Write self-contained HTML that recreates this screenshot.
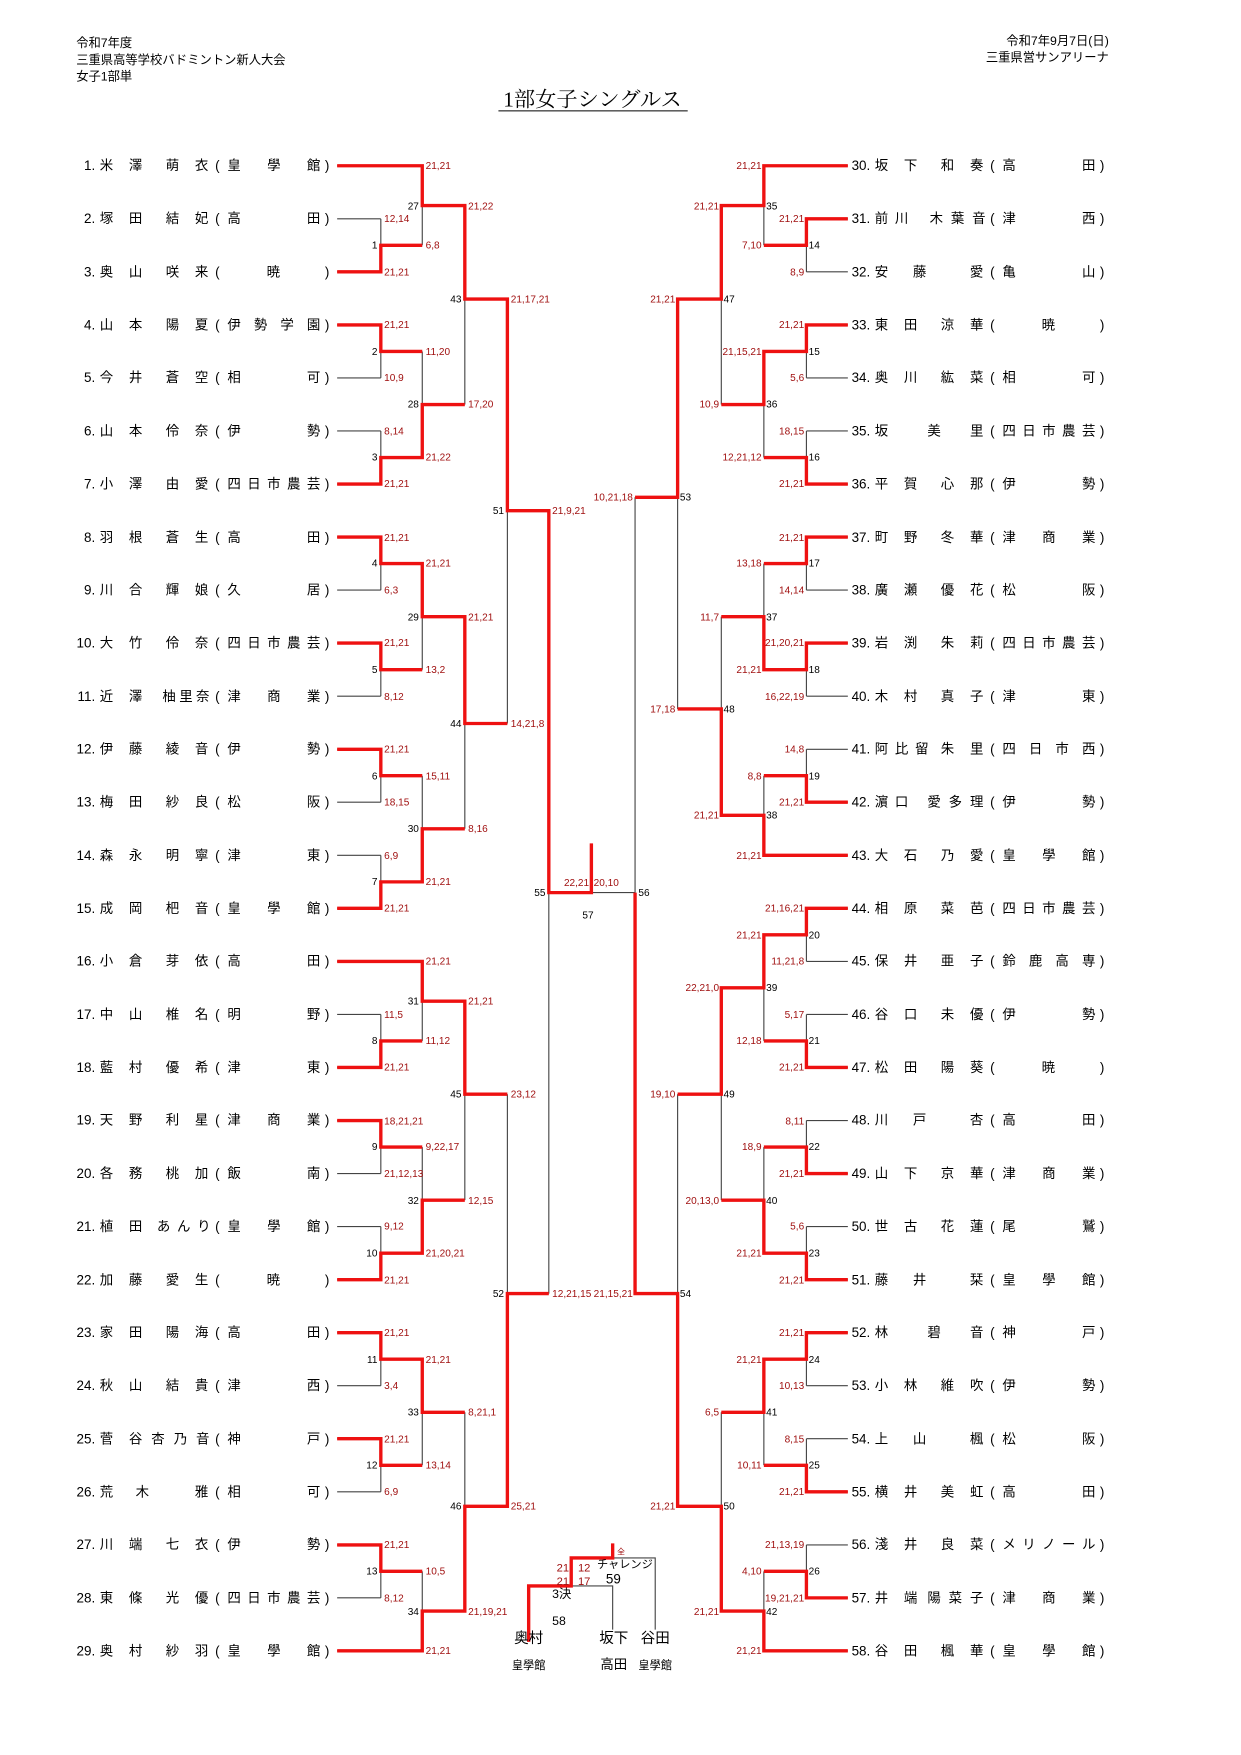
<!DOCTYPE html>
<html><head><meta charset="utf-8"><style>
html,body{margin:0;padding:0;background:#fff;}
svg{display:block;}
text{font-family:"Liberation Sans","Noto Sans CJK JP",sans-serif;fill:#000;}
.p{font-size:12px;}
.s{font-size:9px;fill:#a01010;}
.m{font-size:9px;}
.h{font-size:11px;}
.e{text-anchor:end;}
.c{text-anchor:middle;}
</style></head><body>
<svg width="1241" height="1755" viewBox="0 0 1108 1567" xmlns="http://www.w3.org/2000/svg">
<text class="h" x="68" y="42">令和7年度</text>
<text class="h" x="68" y="57">三重県高等学校バドミントン新人大会</text>
<text class="h" x="68" y="72">女子1部単</text>
<text class="h e" x="990" y="40">令和7年9月7日(日)</text>
<text class="h e" x="990" y="55">三重県営サンアリーナ</text>
<text x="529" y="95" class="c" style="font-size:19px;font-family:'Liberation Serif','Noto Serif CJK SC',serif">1部女子シングルス</text>
<line x1="445" y1="99" x2="614" y2="99" stroke="#000" stroke-width="1"/>

<g fill="none" stroke="#444" stroke-width="1">
<path d="M301 148H377M301 195.4H340M301 242.7H340M301 290.1H340M301 337.4H340M301 384.8H340M301 432.2H340M301 479.5H340M301 526.9H340M301 574.2H340M301 621.6H340M301 669H340M301 716.3H340M301 763.7H340M301 811H340M301 858.4H377M301 905.8H340M301 953.1H340M301 1000.5H340M301 1047.8H340M301 1095.2H340M301 1142.6H340M301 1189.9H340M301 1237.3H340M301 1284.6H340M301 1332H340M301 1379.4H340M301 1426.7H340M301 1474H377
M340 195.4V242.7M340 290.1V337.4M340 384.8V432.2M340 479.5V526.9M340 574.2V621.6M340 669V716.3M340 763.7V811M340 905.8V953.1M340 1000.5V1047.8M340 1095.2V1142.6M340 1189.9V1237.3M340 1284.6V1332M340 1379.4V1426.7
M377 148V219M377 313.8V408.5M377 503.2V597.9M377 692.6V787.4M377 858.4V929.4M377 1024.2V1118.9M377 1213.6V1308.3M377 1403V1474
M415 183.5V361.2M415 550.6V740M415 893.9V1071.6M415 1261V1438.5M453 267V646M453 977V1345M490 456V1155
M757 148H682M757 195.4H720M757 242.7H720M757 290.1H720M757 337.4H720M757 384.8H720M757 432.2H720M757 479.5H720M757 526.9H720M757 574.2H720M757 621.6H720M757 669H720M757 716.3H720M757 763.7H682M757 811H720M757 858.4H720M757 905.8H720M757 953.1H720M757 1000.5H720M757 1047.8H720M757 1095.2H720M757 1142.6H720M757 1189.9H720M757 1237.3H720M757 1284.6H720M757 1332H720M757 1379.4H720M757 1426.7H720M757 1474H682
M720 195.4V242.7M720 290.1V337.4M720 384.8V432.2M720 479.5V526.9M720 574.2V621.6M720 669V716.3M720 811V858.4M720 905.8V953.1M720 1000.5V1047.8M720 1095.2V1142.6M720 1189.9V1237.3M720 1284.6V1332M720 1379.4V1426.7
M682 148V219M682 313.8V408.5M682 503.2V597.9M682 692.6V763.7M682 834.7V929.4M682 1024.2V1118.9M682 1213.6V1308.3M682 1403V1474
M644 183.5V361.2M644 550.6V728M644 882V1071.6M644 1261V1438.5M605 267V633M605 977V1345M567 444V1155M567 797H528
M510 1416H547V1455M547 1391H585V1455"/>
</g>
<g fill="none" stroke="#ee1111" stroke-width="3">
<path d="M301 148H377V183.5H415V267H453V456H490V797H528V753
M301 242.7H340V219H377M301 290.1H340V313.8H377M301 432.2H340V408.5H377V361.2H415M301 479.5H340V503.2H377V550.6H415V646H453M301 574.2H340V597.9H377M301 669H340V692.6H377M301 811H340V787.4H377V740H415
M301 858.4H377V893.9H415V977H453M301 953.1H340V929.4H377M301 1000.5H340V1024.2H377M301 1142.6H340V1118.9H377V1071.6H415M301 1189.9H340V1213.6H377V1261H415M301 1284.6H340V1308.3H377M301 1379.4H340V1403H377M301 1474H377V1438.5H415V1345H453V1155H490
M757 148H682V183.5H644V267H605V444H567M757 195.4H720V219H682M757 290.1H720V313.8H682V361.2H644M757 432.2H720V408.5H682M757 479.5H720V503.2H682M757 574.2H720V597.9H682V550.6H644M757 716.3H720V692.6H682M757 763.7H682V728H644V633H605
M757 811H720V834.7H682V882H644V977H605M757 953.1H720V929.4H682M757 1047.8H720V1024.2H682M757 1142.6H720V1118.9H682V1071.6H644M757 1189.9H720V1213.6H682V1261H644M757 1332H720V1308.3H682M757 1426.7H720V1403H682M757 1474H682V1438.5H644V1345H605V1155H567V797
M472 1466V1416H510V1391H547V1378"/>
</g>

<g class="s">
<text class="s" x="380" y="151">21,21</text><text class="s" x="380" y="222">6,8</text><text class="s" x="380" y="317">11,20</text><text class="s" x="380" y="411">21,22</text><text class="s" x="380" y="506">21,21</text><text class="s" x="380" y="601">13,2</text><text class="s" x="380" y="696">15,11</text><text class="s" x="380" y="790">21,21</text><text class="s" x="380" y="861">21,21</text><text class="s" x="380" y="932">11,12</text><text class="s" x="380" y="1027">9,22,17</text><text class="s" x="380" y="1122">21,20,21</text><text class="s" x="380" y="1217">21,21</text><text class="s" x="380" y="1311">13,14</text><text class="s" x="380" y="1406">10,5</text><text class="s" x="380" y="1477">21,21</text>
<text class="s" x="343" y="198">12,14</text><text class="s" x="343" y="246">21,21</text><text class="s" x="343" y="293">21,21</text><text class="s" x="343" y="340">10,9</text><text class="s" x="343" y="388">8,14</text><text class="s" x="343" y="435">21,21</text><text class="s" x="343" y="483">21,21</text><text class="s" x="343" y="530">6,3</text><text class="s" x="343" y="577">21,21</text><text class="s" x="343" y="625">8,12</text><text class="s" x="343" y="672">21,21</text><text class="s" x="343" y="719">18,15</text><text class="s" x="343" y="767">6,9</text><text class="s" x="343" y="814">21,21</text><text class="s" x="343" y="909">11,5</text><text class="s" x="343" y="956">21,21</text><text class="s" x="343" y="1004">18,21,21</text><text class="s" x="343" y="1051">21,12,13</text><text class="s" x="343" y="1098">9,12</text><text class="s" x="343" y="1146">21,21</text><text class="s" x="343" y="1193">21,21</text><text class="s" x="343" y="1240">3,4</text><text class="s" x="343" y="1288">21,21</text><text class="s" x="343" y="1335">6,9</text><text class="s" x="343" y="1382">21,21</text><text class="s" x="343" y="1430">8,12</text>
<text class="s" x="418" y="187">21,22</text><text class="s" x="418" y="364">17,20</text><text class="s" x="418" y="554">21,21</text><text class="s" x="418" y="743">8,16</text><text class="s" x="418" y="897">21,21</text><text class="s" x="418" y="1075">12,15</text><text class="s" x="418" y="1264">8,21,1</text><text class="s" x="418" y="1442">21,19,21</text>
<text class="s" x="456" y="270">21,17,21</text><text class="s" x="456" y="649">14,21,8</text><text class="s" x="456" y="980">23,12</text><text class="s" x="456" y="1348">25,21</text>
<text class="s" x="493" y="459">21,9,21</text><text class="s" x="493" y="1158">12,21,15</text>
<text class="s e" x="526" y="791">22,21</text><text class="s" x="530" y="791">20,10</text>

<text class="s e" x="718" y="198">21,21</text><text class="s e" x="718" y="246">8,9</text><text class="s e" x="718" y="293">21,21</text><text class="s e" x="718" y="340">5,6</text><text class="s e" x="718" y="388">18,15</text><text class="s e" x="718" y="435">21,21</text><text class="s e" x="718" y="483">21,21</text><text class="s e" x="718" y="530">14,14</text><text class="s e" x="718" y="577">21,20,21</text><text class="s e" x="718" y="625">16,22,19</text><text class="s e" x="718" y="672">14,8</text><text class="s e" x="718" y="719">21,21</text><text class="s e" x="718" y="814">21,16,21</text><text class="s e" x="718" y="861">11,21,8</text><text class="s e" x="718" y="909">5,17</text><text class="s e" x="718" y="956">21,21</text><text class="s e" x="718" y="1004">8,11</text><text class="s e" x="718" y="1051">21,21</text><text class="s e" x="718" y="1098">5,6</text><text class="s e" x="718" y="1146">21,21</text><text class="s e" x="718" y="1193">21,21</text><text class="s e" x="718" y="1240">10,13</text><text class="s e" x="718" y="1288">8,15</text><text class="s e" x="718" y="1335">21,21</text><text class="s e" x="718" y="1382">21,13,19</text><text class="s e" x="718" y="1430">19,21,21</text>
<text class="s e" x="680" y="151">21,21</text><text class="s e" x="680" y="222">7,10</text><text class="s e" x="680" y="317">21,15,21</text><text class="s e" x="680" y="411">12,21,12</text><text class="s e" x="680" y="506">13,18</text><text class="s e" x="680" y="601">21,21</text><text class="s e" x="680" y="696">8,8</text><text class="s e" x="680" y="767">21,21</text><text class="s e" x="680" y="838">21,21</text><text class="s e" x="680" y="932">12,18</text><text class="s e" x="680" y="1027">18,9</text><text class="s e" x="680" y="1122">21,21</text><text class="s e" x="680" y="1217">21,21</text><text class="s e" x="680" y="1311">10,11</text><text class="s e" x="680" y="1406">4,10</text><text class="s e" x="680" y="1477">21,21</text>
<text class="s e" x="642" y="187">21,21</text><text class="s e" x="642" y="364">10,9</text><text class="s e" x="642" y="554">11,7</text><text class="s e" x="642" y="731">21,21</text><text class="s e" x="642" y="885">22,21,0</text><text class="s e" x="642" y="1075">20,13,0</text><text class="s e" x="642" y="1264">6,5</text><text class="s e" x="642" y="1442">21,21</text>
<text class="s e" x="603" y="270">21,21</text><text class="s e" x="603" y="636">17,18</text><text class="s e" x="603" y="980">19,10</text><text class="s e" x="603" y="1348">21,21</text>
<text class="s e" x="565" y="447">10,21,18</text><text class="s e" x="565" y="1158">21,15,21</text>
</g>

<g>
<text class="m e" x="337" y="222">1</text><text class="m e" x="337" y="317">2</text><text class="m e" x="337" y="411">3</text><text class="m e" x="337" y="506">4</text><text class="m e" x="337" y="601">5</text><text class="m e" x="337" y="696">6</text><text class="m e" x="337" y="790">7</text><text class="m e" x="337" y="932">8</text><text class="m e" x="337" y="1027">9</text><text class="m e" x="337" y="1122">10</text><text class="m e" x="337" y="1217">11</text><text class="m e" x="337" y="1311">12</text><text class="m e" x="337" y="1406">13</text>
<text class="m e" x="374" y="187">27</text><text class="m e" x="374" y="364">28</text><text class="m e" x="374" y="554">29</text><text class="m e" x="374" y="743">30</text><text class="m e" x="374" y="897">31</text><text class="m e" x="374" y="1075">32</text><text class="m e" x="374" y="1264">33</text><text class="m e" x="374" y="1442">34</text>
<text class="m e" x="412" y="270">43</text><text class="m e" x="412" y="649">44</text><text class="m e" x="412" y="980">45</text><text class="m e" x="412" y="1348">46</text>
<text class="m e" x="450" y="459">51</text><text class="m e" x="450" y="1158">52</text><text class="m e" x="487" y="800">55</text><text class="m c" x="525" y="820">57</text>
<text class="m" x="722" y="222">14</text><text class="m" x="722" y="317">15</text><text class="m" x="722" y="411">16</text><text class="m" x="722" y="506">17</text><text class="m" x="722" y="601">18</text><text class="m" x="722" y="696">19</text><text class="m" x="722" y="838">20</text><text class="m" x="722" y="932">21</text><text class="m" x="722" y="1027">22</text><text class="m" x="722" y="1122">23</text><text class="m" x="722" y="1217">24</text><text class="m" x="722" y="1311">25</text><text class="m" x="722" y="1406">26</text>
<text class="m" x="684" y="187">35</text><text class="m" x="684" y="364">36</text><text class="m" x="684" y="554">37</text><text class="m" x="684" y="731">38</text><text class="m" x="684" y="885">39</text><text class="m" x="684" y="1075">40</text><text class="m" x="684" y="1264">41</text><text class="m" x="684" y="1442">42</text>
<text class="m" x="646" y="270">47</text><text class="m" x="646" y="636">48</text><text class="m" x="646" y="980">49</text><text class="m" x="646" y="1348">50</text>
<text class="m" x="607" y="447">53</text><text class="m" x="607" y="1158">54</text><text class="m" x="570" y="800">56</text>
</g>

<g class="p">
<text class="p e" x="85" y="152">1.</text><text class="p" x="89" y="152" textLength="38" lengthAdjust="spacing">米澤</text><text class="p" x="148" y="152" textLength="38" lengthAdjust="spacing">萌衣</text><text class="p" x="192" y="152">(</text><text class="p" x="203" y="152" textLength="83" lengthAdjust="spacing">皇學館</text><text class="p" x="290" y="152">)</text>
<text class="p e" x="85" y="199">2.</text><text class="p" x="89" y="199" textLength="38" lengthAdjust="spacing">塚田</text><text class="p" x="148" y="199" textLength="38" lengthAdjust="spacing">結妃</text><text class="p" x="192" y="199">(</text><text class="p" x="203" y="199" textLength="83" lengthAdjust="spacing">高田</text><text class="p" x="290" y="199">)</text>
<text class="p e" x="85" y="247">3.</text><text class="p" x="89" y="247" textLength="38" lengthAdjust="spacing">奥山</text><text class="p" x="148" y="247" textLength="38" lengthAdjust="spacing">咲来</text><text class="p" x="192" y="247">(</text><text class="p c" x="244" y="247">暁</text><text class="p" x="290" y="247">)</text>
<text class="p e" x="85" y="294">4.</text><text class="p" x="89" y="294" textLength="38" lengthAdjust="spacing">山本</text><text class="p" x="148" y="294" textLength="38" lengthAdjust="spacing">陽夏</text><text class="p" x="192" y="294">(</text><text class="p" x="203" y="294" textLength="83" lengthAdjust="spacing">伊勢学園</text><text class="p" x="290" y="294">)</text>
<text class="p e" x="85" y="341">5.</text><text class="p" x="89" y="341" textLength="38" lengthAdjust="spacing">今井</text><text class="p" x="148" y="341" textLength="38" lengthAdjust="spacing">蒼空</text><text class="p" x="192" y="341">(</text><text class="p" x="203" y="341" textLength="83" lengthAdjust="spacing">相可</text><text class="p" x="290" y="341">)</text>
<text class="p e" x="85" y="389">6.</text><text class="p" x="89" y="389" textLength="38" lengthAdjust="spacing">山本</text><text class="p" x="148" y="389" textLength="38" lengthAdjust="spacing">伶奈</text><text class="p" x="192" y="389">(</text><text class="p" x="203" y="389" textLength="83" lengthAdjust="spacing">伊勢</text><text class="p" x="290" y="389">)</text>
<text class="p e" x="85" y="436">7.</text><text class="p" x="89" y="436" textLength="38" lengthAdjust="spacing">小澤</text><text class="p" x="148" y="436" textLength="38" lengthAdjust="spacing">由愛</text><text class="p" x="192" y="436">(</text><text class="p" x="203" y="436" textLength="83" lengthAdjust="spacing">四日市農芸</text><text class="p" x="290" y="436">)</text>
<text class="p e" x="85" y="484">8.</text><text class="p" x="89" y="484" textLength="38" lengthAdjust="spacing">羽根</text><text class="p" x="148" y="484" textLength="38" lengthAdjust="spacing">蒼生</text><text class="p" x="192" y="484">(</text><text class="p" x="203" y="484" textLength="83" lengthAdjust="spacing">高田</text><text class="p" x="290" y="484">)</text>
<text class="p e" x="85" y="531">9.</text><text class="p" x="89" y="531" textLength="38" lengthAdjust="spacing">川合</text><text class="p" x="148" y="531" textLength="38" lengthAdjust="spacing">輝娘</text><text class="p" x="192" y="531">(</text><text class="p" x="203" y="531" textLength="83" lengthAdjust="spacing">久居</text><text class="p" x="290" y="531">)</text>
<text class="p e" x="85" y="578">10.</text><text class="p" x="89" y="578" textLength="38" lengthAdjust="spacing">大竹</text><text class="p" x="148" y="578" textLength="38" lengthAdjust="spacing">伶奈</text><text class="p" x="192" y="578">(</text><text class="p" x="203" y="578" textLength="83" lengthAdjust="spacing">四日市農芸</text><text class="p" x="290" y="578">)</text>
<text class="p e" x="85" y="626">11.</text><text class="p" x="89" y="626" textLength="38" lengthAdjust="spacing">近澤</text><text class="p" x="145" y="626" textLength="42" lengthAdjust="spacing">柚里奈</text><text class="p" x="192" y="626">(</text><text class="p" x="203" y="626" textLength="83" lengthAdjust="spacing">津商業</text><text class="p" x="290" y="626">)</text>
<text class="p e" x="85" y="673">12.</text><text class="p" x="89" y="673" textLength="38" lengthAdjust="spacing">伊藤</text><text class="p" x="148" y="673" textLength="38" lengthAdjust="spacing">綾音</text><text class="p" x="192" y="673">(</text><text class="p" x="203" y="673" textLength="83" lengthAdjust="spacing">伊勢</text><text class="p" x="290" y="673">)</text>
<text class="p e" x="85" y="720">13.</text><text class="p" x="89" y="720" textLength="38" lengthAdjust="spacing">梅田</text><text class="p" x="148" y="720" textLength="38" lengthAdjust="spacing">紗良</text><text class="p" x="192" y="720">(</text><text class="p" x="203" y="720" textLength="83" lengthAdjust="spacing">松阪</text><text class="p" x="290" y="720">)</text>
<text class="p e" x="85" y="768">14.</text><text class="p" x="89" y="768" textLength="38" lengthAdjust="spacing">森永</text><text class="p" x="148" y="768" textLength="38" lengthAdjust="spacing">明寧</text><text class="p" x="192" y="768">(</text><text class="p" x="203" y="768" textLength="83" lengthAdjust="spacing">津東</text><text class="p" x="290" y="768">)</text>
<text class="p e" x="85" y="815">15.</text><text class="p" x="89" y="815" textLength="38" lengthAdjust="spacing">成岡</text><text class="p" x="148" y="815" textLength="38" lengthAdjust="spacing">杷音</text><text class="p" x="192" y="815">(</text><text class="p" x="203" y="815" textLength="83" lengthAdjust="spacing">皇學館</text><text class="p" x="290" y="815">)</text>
<text class="p e" x="85" y="862">16.</text><text class="p" x="89" y="862" textLength="38" lengthAdjust="spacing">小倉</text><text class="p" x="148" y="862" textLength="38" lengthAdjust="spacing">芽依</text><text class="p" x="192" y="862">(</text><text class="p" x="203" y="862" textLength="83" lengthAdjust="spacing">高田</text><text class="p" x="290" y="862">)</text>
<text class="p e" x="85" y="910">17.</text><text class="p" x="89" y="910" textLength="38" lengthAdjust="spacing">中山</text><text class="p" x="148" y="910" textLength="38" lengthAdjust="spacing">椎名</text><text class="p" x="192" y="910">(</text><text class="p" x="203" y="910" textLength="83" lengthAdjust="spacing">明野</text><text class="p" x="290" y="910">)</text>
<text class="p e" x="85" y="957">18.</text><text class="p" x="89" y="957" textLength="38" lengthAdjust="spacing">藍村</text><text class="p" x="148" y="957" textLength="38" lengthAdjust="spacing">優希</text><text class="p" x="192" y="957">(</text><text class="p" x="203" y="957" textLength="83" lengthAdjust="spacing">津東</text><text class="p" x="290" y="957">)</text>
<text class="p e" x="85" y="1004">19.</text><text class="p" x="89" y="1004" textLength="38" lengthAdjust="spacing">天野</text><text class="p" x="148" y="1004" textLength="38" lengthAdjust="spacing">利星</text><text class="p" x="192" y="1004">(</text><text class="p" x="203" y="1004" textLength="83" lengthAdjust="spacing">津商業</text><text class="p" x="290" y="1004">)</text>
<text class="p e" x="85" y="1052">20.</text><text class="p" x="89" y="1052" textLength="38" lengthAdjust="spacing">各務</text><text class="p" x="148" y="1052" textLength="38" lengthAdjust="spacing">桃加</text><text class="p" x="192" y="1052">(</text><text class="p" x="203" y="1052" textLength="83" lengthAdjust="spacing">飯南</text><text class="p" x="290" y="1052">)</text>
<text class="p e" x="85" y="1099">21.</text><text class="p" x="89" y="1099" textLength="38" lengthAdjust="spacing">植田</text><text class="p" x="140" y="1099" textLength="48" lengthAdjust="spacing">あんり</text><text class="p" x="192" y="1099">(</text><text class="p" x="203" y="1099" textLength="83" lengthAdjust="spacing">皇學館</text><text class="p" x="290" y="1099">)</text>
<text class="p e" x="85" y="1147">22.</text><text class="p" x="89" y="1147" textLength="38" lengthAdjust="spacing">加藤</text><text class="p" x="148" y="1147" textLength="38" lengthAdjust="spacing">愛生</text><text class="p" x="192" y="1147">(</text><text class="p c" x="244" y="1147">暁</text><text class="p" x="290" y="1147">)</text>
<text class="p e" x="85" y="1194">23.</text><text class="p" x="89" y="1194" textLength="38" lengthAdjust="spacing">家田</text><text class="p" x="148" y="1194" textLength="38" lengthAdjust="spacing">陽海</text><text class="p" x="192" y="1194">(</text><text class="p" x="203" y="1194" textLength="83" lengthAdjust="spacing">高田</text><text class="p" x="290" y="1194">)</text>
<text class="p e" x="85" y="1241">24.</text><text class="p" x="89" y="1241" textLength="38" lengthAdjust="spacing">秋山</text><text class="p" x="148" y="1241" textLength="38" lengthAdjust="spacing">結貴</text><text class="p" x="192" y="1241">(</text><text class="p" x="203" y="1241" textLength="83" lengthAdjust="spacing">津西</text><text class="p" x="290" y="1241">)</text>
<text class="p e" x="85" y="1289">25.</text><text class="p" x="89" y="1289" textLength="38" lengthAdjust="spacing">菅谷</text><text class="p" x="135" y="1289" textLength="52" lengthAdjust="spacing">杏乃音</text><text class="p" x="192" y="1289">(</text><text class="p" x="203" y="1289" textLength="83" lengthAdjust="spacing">神戸</text><text class="p" x="290" y="1289">)</text>
<text class="p e" x="85" y="1336">26.</text><text class="p" x="89" y="1336" textLength="44" lengthAdjust="spacing">荒木</text><text class="p" x="174" y="1336">雅</text><text class="p" x="192" y="1336">(</text><text class="p" x="203" y="1336" textLength="83" lengthAdjust="spacing">相可</text><text class="p" x="290" y="1336">)</text>
<text class="p e" x="85" y="1383">27.</text><text class="p" x="89" y="1383" textLength="38" lengthAdjust="spacing">川端</text><text class="p" x="148" y="1383" textLength="38" lengthAdjust="spacing">七衣</text><text class="p" x="192" y="1383">(</text><text class="p" x="203" y="1383" textLength="83" lengthAdjust="spacing">伊勢</text><text class="p" x="290" y="1383">)</text>
<text class="p e" x="85" y="1431">28.</text><text class="p" x="89" y="1431" textLength="38" lengthAdjust="spacing">東條</text><text class="p" x="148" y="1431" textLength="38" lengthAdjust="spacing">光優</text><text class="p" x="192" y="1431">(</text><text class="p" x="203" y="1431" textLength="83" lengthAdjust="spacing">四日市農芸</text><text class="p" x="290" y="1431">)</text>
<text class="p e" x="85" y="1478">29.</text><text class="p" x="89" y="1478" textLength="38" lengthAdjust="spacing">奥村</text><text class="p" x="148" y="1478" textLength="38" lengthAdjust="spacing">紗羽</text><text class="p" x="192" y="1478">(</text><text class="p" x="203" y="1478" textLength="83" lengthAdjust="spacing">皇學館</text><text class="p" x="290" y="1478">)</text>
<text class="p e" x="777" y="152">30.</text><text class="p" x="781" y="152" textLength="38" lengthAdjust="spacing">坂下</text><text class="p" x="840" y="152" textLength="38" lengthAdjust="spacing">和奏</text><text class="p" x="884" y="152">(</text><text class="p" x="895" y="152" textLength="83" lengthAdjust="spacing">高田</text><text class="p" x="982" y="152">)</text>
<text class="p e" x="777" y="199">31.</text><text class="p" x="781" y="199" textLength="30" lengthAdjust="spacing">前川</text><text class="p" x="830" y="199" textLength="50" lengthAdjust="spacing">木葉音</text><text class="p" x="884" y="199">(</text><text class="p" x="895" y="199" textLength="83" lengthAdjust="spacing">津西</text><text class="p" x="982" y="199">)</text>
<text class="p e" x="777" y="247">32.</text><text class="p" x="781" y="247" textLength="46" lengthAdjust="spacing">安藤</text><text class="p" x="866" y="247">愛</text><text class="p" x="884" y="247">(</text><text class="p" x="895" y="247" textLength="83" lengthAdjust="spacing">亀山</text><text class="p" x="982" y="247">)</text>
<text class="p e" x="777" y="294">33.</text><text class="p" x="781" y="294" textLength="38" lengthAdjust="spacing">東田</text><text class="p" x="840" y="294" textLength="38" lengthAdjust="spacing">涼華</text><text class="p" x="884" y="294">(</text><text class="p c" x="936" y="294">暁</text><text class="p" x="982" y="294">)</text>
<text class="p e" x="777" y="341">34.</text><text class="p" x="781" y="341" textLength="38" lengthAdjust="spacing">奥川</text><text class="p" x="840" y="341" textLength="38" lengthAdjust="spacing">紘菜</text><text class="p" x="884" y="341">(</text><text class="p" x="895" y="341" textLength="83" lengthAdjust="spacing">相可</text><text class="p" x="982" y="341">)</text>
<text class="p e" x="777" y="389">35.</text><text class="p" x="781" y="389">坂</text><text class="p" x="828" y="389" textLength="50" lengthAdjust="spacing">美里</text><text class="p" x="884" y="389">(</text><text class="p" x="895" y="389" textLength="83" lengthAdjust="spacing">四日市農芸</text><text class="p" x="982" y="389">)</text>
<text class="p e" x="777" y="436">36.</text><text class="p" x="781" y="436" textLength="38" lengthAdjust="spacing">平賀</text><text class="p" x="840" y="436" textLength="38" lengthAdjust="spacing">心那</text><text class="p" x="884" y="436">(</text><text class="p" x="895" y="436" textLength="83" lengthAdjust="spacing">伊勢</text><text class="p" x="982" y="436">)</text>
<text class="p e" x="777" y="484">37.</text><text class="p" x="781" y="484" textLength="38" lengthAdjust="spacing">町野</text><text class="p" x="840" y="484" textLength="38" lengthAdjust="spacing">冬華</text><text class="p" x="884" y="484">(</text><text class="p" x="895" y="484" textLength="83" lengthAdjust="spacing">津商業</text><text class="p" x="982" y="484">)</text>
<text class="p e" x="777" y="531">38.</text><text class="p" x="781" y="531" textLength="38" lengthAdjust="spacing">廣瀬</text><text class="p" x="840" y="531" textLength="38" lengthAdjust="spacing">優花</text><text class="p" x="884" y="531">(</text><text class="p" x="895" y="531" textLength="83" lengthAdjust="spacing">松阪</text><text class="p" x="982" y="531">)</text>
<text class="p e" x="777" y="578">39.</text><text class="p" x="781" y="578" textLength="38" lengthAdjust="spacing">岩渕</text><text class="p" x="840" y="578" textLength="38" lengthAdjust="spacing">朱莉</text><text class="p" x="884" y="578">(</text><text class="p" x="895" y="578" textLength="83" lengthAdjust="spacing">四日市農芸</text><text class="p" x="982" y="578">)</text>
<text class="p e" x="777" y="626">40.</text><text class="p" x="781" y="626" textLength="38" lengthAdjust="spacing">木村</text><text class="p" x="840" y="626" textLength="38" lengthAdjust="spacing">真子</text><text class="p" x="884" y="626">(</text><text class="p" x="895" y="626" textLength="83" lengthAdjust="spacing">津東</text><text class="p" x="982" y="626">)</text>
<text class="p e" x="777" y="673">41.</text><text class="p" x="781" y="673" textLength="48" lengthAdjust="spacing">阿比留</text><text class="p" x="840" y="673" textLength="38" lengthAdjust="spacing">朱里</text><text class="p" x="884" y="673">(</text><text class="p" x="895" y="673" textLength="83" lengthAdjust="spacing">四日市西</text><text class="p" x="982" y="673">)</text>
<text class="p e" x="777" y="720">42.</text><text class="p" x="781" y="720" textLength="30" lengthAdjust="spacing">濵口</text><text class="p" x="828" y="720" textLength="50" lengthAdjust="spacing">愛多理</text><text class="p" x="884" y="720">(</text><text class="p" x="895" y="720" textLength="83" lengthAdjust="spacing">伊勢</text><text class="p" x="982" y="720">)</text>
<text class="p e" x="777" y="768">43.</text><text class="p" x="781" y="768" textLength="38" lengthAdjust="spacing">大石</text><text class="p" x="840" y="768" textLength="38" lengthAdjust="spacing">乃愛</text><text class="p" x="884" y="768">(</text><text class="p" x="895" y="768" textLength="83" lengthAdjust="spacing">皇學館</text><text class="p" x="982" y="768">)</text>
<text class="p e" x="777" y="815">44.</text><text class="p" x="781" y="815" textLength="38" lengthAdjust="spacing">相原</text><text class="p" x="840" y="815" textLength="38" lengthAdjust="spacing">菜芭</text><text class="p" x="884" y="815">(</text><text class="p" x="895" y="815" textLength="83" lengthAdjust="spacing">四日市農芸</text><text class="p" x="982" y="815">)</text>
<text class="p e" x="777" y="862">45.</text><text class="p" x="781" y="862" textLength="38" lengthAdjust="spacing">保井</text><text class="p" x="840" y="862" textLength="38" lengthAdjust="spacing">亜子</text><text class="p" x="884" y="862">(</text><text class="p" x="895" y="862" textLength="83" lengthAdjust="spacing">鈴鹿高専</text><text class="p" x="982" y="862">)</text>
<text class="p e" x="777" y="910">46.</text><text class="p" x="781" y="910" textLength="38" lengthAdjust="spacing">谷口</text><text class="p" x="840" y="910" textLength="38" lengthAdjust="spacing">未優</text><text class="p" x="884" y="910">(</text><text class="p" x="895" y="910" textLength="83" lengthAdjust="spacing">伊勢</text><text class="p" x="982" y="910">)</text>
<text class="p e" x="777" y="957">47.</text><text class="p" x="781" y="957" textLength="38" lengthAdjust="spacing">松田</text><text class="p" x="840" y="957" textLength="38" lengthAdjust="spacing">陽葵</text><text class="p" x="884" y="957">(</text><text class="p c" x="936" y="957">暁</text><text class="p" x="982" y="957">)</text>
<text class="p e" x="777" y="1004">48.</text><text class="p" x="781" y="1004" textLength="46" lengthAdjust="spacing">川戸</text><text class="p" x="866" y="1004">杏</text><text class="p" x="884" y="1004">(</text><text class="p" x="895" y="1004" textLength="83" lengthAdjust="spacing">高田</text><text class="p" x="982" y="1004">)</text>
<text class="p e" x="777" y="1052">49.</text><text class="p" x="781" y="1052" textLength="38" lengthAdjust="spacing">山下</text><text class="p" x="840" y="1052" textLength="38" lengthAdjust="spacing">京華</text><text class="p" x="884" y="1052">(</text><text class="p" x="895" y="1052" textLength="83" lengthAdjust="spacing">津商業</text><text class="p" x="982" y="1052">)</text>
<text class="p e" x="777" y="1099">50.</text><text class="p" x="781" y="1099" textLength="38" lengthAdjust="spacing">世古</text><text class="p" x="840" y="1099" textLength="38" lengthAdjust="spacing">花蓮</text><text class="p" x="884" y="1099">(</text><text class="p" x="895" y="1099" textLength="83" lengthAdjust="spacing">尾鷲</text><text class="p" x="982" y="1099">)</text>
<text class="p e" x="777" y="1147">51.</text><text class="p" x="781" y="1147" textLength="46" lengthAdjust="spacing">藤井</text><text class="p" x="866" y="1147">栞</text><text class="p" x="884" y="1147">(</text><text class="p" x="895" y="1147" textLength="83" lengthAdjust="spacing">皇學館</text><text class="p" x="982" y="1147">)</text>
<text class="p e" x="777" y="1194">52.</text><text class="p" x="781" y="1194">林</text><text class="p" x="828" y="1194" textLength="50" lengthAdjust="spacing">碧音</text><text class="p" x="884" y="1194">(</text><text class="p" x="895" y="1194" textLength="83" lengthAdjust="spacing">神戸</text><text class="p" x="982" y="1194">)</text>
<text class="p e" x="777" y="1241">53.</text><text class="p" x="781" y="1241" textLength="38" lengthAdjust="spacing">小林</text><text class="p" x="840" y="1241" textLength="38" lengthAdjust="spacing">維吹</text><text class="p" x="884" y="1241">(</text><text class="p" x="895" y="1241" textLength="83" lengthAdjust="spacing">伊勢</text><text class="p" x="982" y="1241">)</text>
<text class="p e" x="777" y="1289">54.</text><text class="p" x="781" y="1289" textLength="46" lengthAdjust="spacing">上山</text><text class="p" x="866" y="1289">楓</text><text class="p" x="884" y="1289">(</text><text class="p" x="895" y="1289" textLength="83" lengthAdjust="spacing">松阪</text><text class="p" x="982" y="1289">)</text>
<text class="p e" x="777" y="1336">55.</text><text class="p" x="781" y="1336" textLength="38" lengthAdjust="spacing">横井</text><text class="p" x="840" y="1336" textLength="38" lengthAdjust="spacing">美虹</text><text class="p" x="884" y="1336">(</text><text class="p" x="895" y="1336" textLength="83" lengthAdjust="spacing">高田</text><text class="p" x="982" y="1336">)</text>
<text class="p e" x="777" y="1383">56.</text><text class="p" x="781" y="1383" textLength="38" lengthAdjust="spacing">淺井</text><text class="p" x="840" y="1383" textLength="38" lengthAdjust="spacing">良菜</text><text class="p" x="884" y="1383">(</text><text class="p" x="895" y="1383" textLength="83" lengthAdjust="spacing">メリノール</text><text class="p" x="982" y="1383">)</text>
<text class="p e" x="777" y="1431">57.</text><text class="p" x="781" y="1431" textLength="38" lengthAdjust="spacing">井端</text><text class="p" x="828" y="1431" textLength="50" lengthAdjust="spacing">陽菜子</text><text class="p" x="884" y="1431">(</text><text class="p" x="895" y="1431" textLength="83" lengthAdjust="spacing">津商業</text><text class="p" x="982" y="1431">)</text>
<text class="p e" x="777" y="1478">58.</text><text class="p" x="781" y="1478" textLength="38" lengthAdjust="spacing">谷田</text><text class="p" x="840" y="1478" textLength="38" lengthAdjust="spacing">楓華</text><text class="p" x="884" y="1478">(</text><text class="p" x="895" y="1478" textLength="83" lengthAdjust="spacing">皇學館</text><text class="p" x="982" y="1478">)</text>
</g>

<g>
<text class="s" x="551" y="1388" style="font-size:7px">全</text>
<text class="s" x="497" y="1403" style="font-size:10px">21</text><text class="s" x="516" y="1403" style="font-size:10px">12</text>
<text class="s" x="497" y="1415" style="font-size:10px">21</text><text class="s" x="516" y="1415" style="font-size:10px">17</text>
<text x="533" y="1400" style="font-size:10px">チャレンジ</text>
<text x="541" y="1414" style="font-size:12px">59</text>
<text x="493" y="1427" style="font-size:11px">3決</text>
<text x="493" y="1451" style="font-size:11px">58</text>
<text x="472" y="1467" class="c" style="font-size:13px">奥村</text>
<text x="548" y="1467" class="c" style="font-size:13px">坂下</text>
<text x="585" y="1467" class="c" style="font-size:13px">谷田</text>
<text x="472" y="1490" class="c" style="font-size:10px">皇學館</text>
<text x="548" y="1490" class="c" style="font-size:12px">高田</text>
<text x="585" y="1490" class="c" style="font-size:10px">皇學館</text>
</g>
</svg>
</body></html>
